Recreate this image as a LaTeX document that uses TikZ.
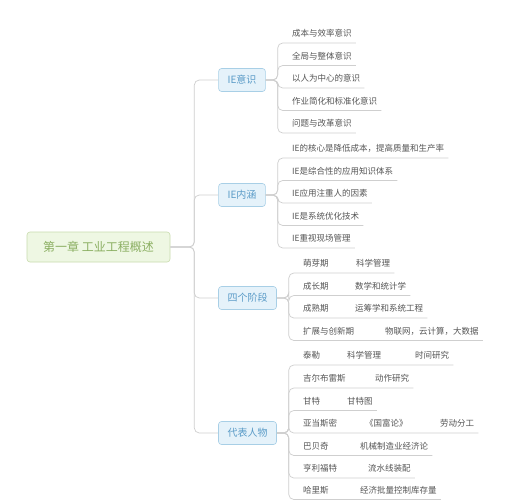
\documentclass[tikz,border=0pt]{standalone}
\usepackage{fontspec}
\setmainfont{Noto Sans CJK SC}
\definecolor{rootfill}{HTML}{EEF7E3}
\definecolor{rootline}{HTML}{C9DCAE}
\definecolor{roottext}{HTML}{8BAF62}
\definecolor{topfill}{HTML}{E5F2FA}
\definecolor{topline}{HTML}{A8CFE6}
\definecolor{toptext}{HTML}{5A9BC7}
\definecolor{leaftext}{HTML}{555555}
\definecolor{linegray}{HTML}{CFCFCF}
\tikzset{
  rootbox/.style={draw=rootline, fill=rootfill, rounded corners=3pt, text=roottext,
    font=\fontsize{12}{14}\selectfont, minimum width=143pt, minimum height=30pt, inner sep=0pt, line width=0.6pt},
  topic/.style={draw=topline, fill=topfill, rounded corners=3pt, text=toptext,
    font=\fontsize{10}{12}\selectfont, minimum height=23pt, inner xsep=9pt, inner ysep=0pt, line width=0.6pt},
  leaf/.style={anchor=south west, text=leaftext, font=\fontsize{8.5}{10}\selectfont,
    inner xsep=4pt, inner ysep=4.5pt, text height=7pt, text depth=1.5pt},
  conn/.style={draw=linegray, line width=0.7pt, rounded corners=5pt},
}
\begin{document}
\begin{tikzpicture}[x=1pt,y=-1pt]
\useasboundingbox (0,0) rectangle (508,500);
\fill[white] (0,0) rectangle (508,500);

% root and topics
\node[rootbox] (root) at (98.5,247) {第一章\ 工业工程概述};
\node[topic] (t1) at (242,80) {IE意识};
\node[topic] (t2) at (242,195) {IE内涵};
\node[topic] (t3) at (247.5,298) {四个阶段};
\node[topic] (t4) at (247.5,433) {代表人物};

\foreach \t in {t1,t2,t3,t4}
  \draw[conn] (root.east) -- ++(24,0) |- (\t.west);

% IE意识
\node[leaf] (a1) at (288,43) {成本与效率意识};
\node[leaf] (a2) at (288,65.5) {全局与整体意识};
\node[leaf] (a3) at (288,88) {以人为中心的意识};
\node[leaf] (a4) at (288,110.5) {作业简化和标准化意识};
\node[leaf] (a5) at (288,133) {问题与改革意识};
\foreach \n in {a1,a2,a3,a4,a5}
  \draw[conn] (t1.east) -- ++(12,0) |- (\n.south west) -- (\n.south east);

% IE内涵
\node[leaf] (b1) at (288,158) {IE的核心是降低成本，提高质量和生产率};
\node[leaf] (b2) at (288,180.5) {IE是综合性的应用知识体系};
\node[leaf] (b3) at (288,203) {IE应用注重人的因素};
\node[leaf] (b4) at (288,225.5) {IE是系统优化技术};
\node[leaf] (b5) at (288,248) {IE重视现场管理};
\foreach \n in {b1,b2,b3,b4,b5}
  \draw[conn] (t2.east) -- ++(12,0) |- (\n.south west) -- (\n.south east);

% 四个阶段
\node[leaf] (c1) at (299,273) {萌芽期};
\node[leaf] (c1a) at (352,273) {科学管理};
\node[leaf] (c2) at (299,295.5) {成长期};
\node[leaf] (c2a) at (351,295.5) {数学和统计学};
\node[leaf] (c3) at (299,318) {成熟期};
\node[leaf] (c3a) at (351,318) {运筹学和系统工程};
\node[leaf] (c4) at (299,340.5) {扩展与创新期};
\node[leaf] (c4a) at (381,340.5) {物联网，云计算，大数据};
\foreach \n/\m in {c1/c1a,c2/c2a,c3/c3a,c4/c4a}
  \draw[conn] (t3.east) -- ++(12,0) |- (\n.south west) -- (\n.south east) -- (\m.south west) -- (\m.south east);

% 代表人物
\node[leaf] (d1) at (299,365) {泰勒};
\node[leaf] (d1a) at (343,365) {科学管理};
\node[leaf] (d1b) at (411,365) {时间研究};
\node[leaf] (d2) at (299,388) {吉尔布雷斯};
\node[leaf] (d2a) at (371,388) {动作研究};
\node[leaf] (d3) at (299,410.5) {甘特};
\node[leaf] (d3a) at (343,410.5) {甘特图};
\node[leaf] (d4) at (299,433) {亚当斯密};
\node[leaf] (d4a) at (361,433) {《国富论》};
\node[leaf] (d4b) at (436,433) {劳动分工};
\node[leaf] (d5) at (299,455.5) {巴贝奇};
\node[leaf] (d5a) at (356,455.5) {机械制造业经济论};
\node[leaf] (d6) at (299,478) {亨利福特};
\node[leaf] (d6a) at (364,478) {流水线装配};
\node[leaf] (d7) at (299,499.5) {哈里斯};
\node[leaf] (d7a) at (356,499.5) {经济批量控制库存量};
\draw[conn] (t4.east) -- ++(12,0) |- (d1.south west) -- (d1.south east) -- (d1a.south west) -- (d1a.south east) -- (d1b.south west) -- (d1b.south east);
\draw[conn] (t4.east) -- ++(12,0) |- (d4.south west) -- (d4.south east) -- (d4a.south west) -- (d4a.south east) -- (d4b.south west) -- (d4b.south east);
\foreach \n/\m in {d2/d2a,d3/d3a,d5/d5a,d6/d6a,d7/d7a}
  \draw[conn] (t4.east) -- ++(12,0) |- (\n.south west) -- (\n.south east) -- (\m.south west) -- (\m.south east);
\end{tikzpicture}
\end{document}
